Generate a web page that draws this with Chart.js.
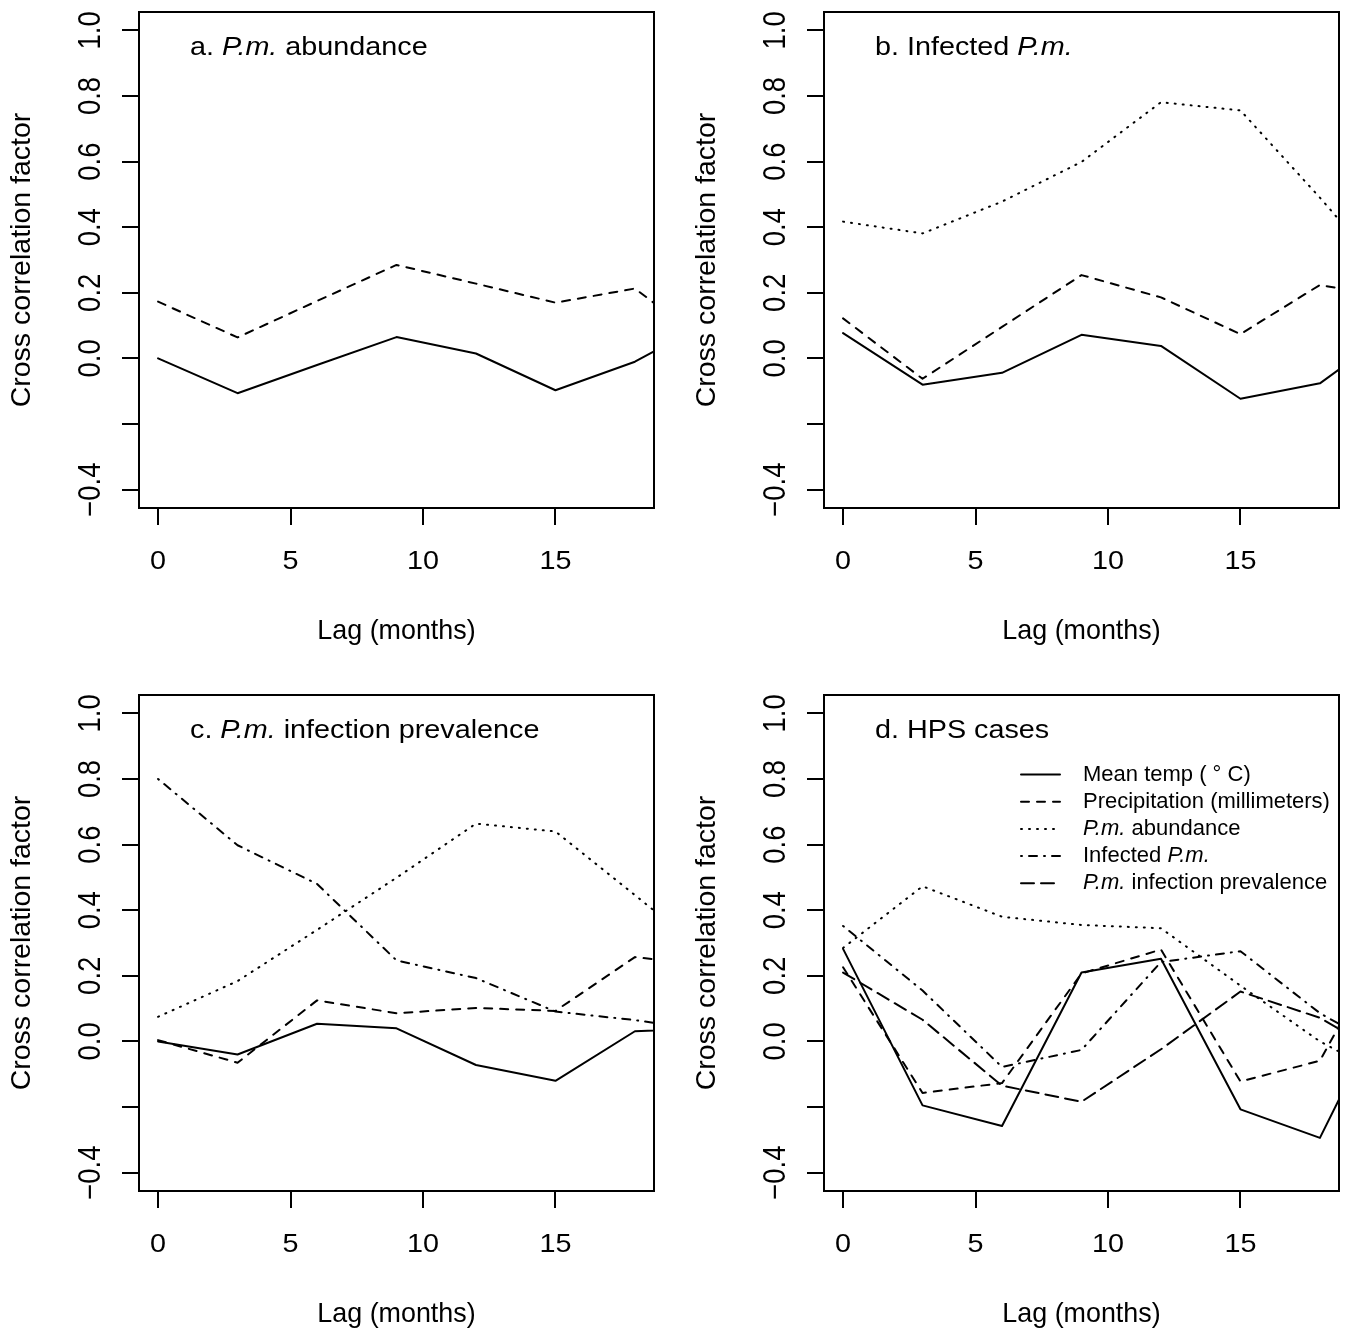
<!DOCTYPE html>
<html><head><meta charset="utf-8">
<script src="https://cdn.jsdelivr.net/npm/chart.js@4.4.1/dist/chart.umd.min.js"></script>
<style>
html,body{margin:0;padding:0;background:#fff;overflow:hidden;width:1349px;height:1329px}
.p{position:absolute}
canvas{display:block}
</style></head><body>
<div class="p" style="left:0;top:0"><canvas id="ca" width="674" height="646"></canvas></div>
<div class="p" style="left:685px;top:0"><canvas id="cb" width="664" height="646"></canvas></div>
<div class="p" style="left:0;top:683px"><canvas id="cc" width="674" height="646"></canvas></div>
<div class="p" style="left:685px;top:683px"><canvas id="cd" width="664" height="646"></canvas></div>
<script>
// ---- data ----
const lags = [0, 3, 6, 9, 12, 15, 18, 21];
const xTicks = [0, 5, 10, 15];
const xTickLabels = ['0', '5', '10', '15'];
const yTicks = [-0.4, -0.2, 0, 0.2, 0.4, 0.6, 0.8, 1.0];
const yTickLabels = ['\u22120.4', '', '0.0', '0.2', '0.4', '0.6', '0.8', '1.0'];
const xTitle = 'Lag (months)';
const yTitle = 'Cross correlation factor';

// a. P.m. abundance
const aTemp   = [0.0, -0.106, -0.02, 0.065, 0.015, -0.097, -0.010, 0.12];
const aPrecip = [0.173, 0.064, 0.175, 0.285, 0.228, 0.17, 0.213, 0.03];
// b. Infected P.m.
const bTemp   = [0.077, -0.08, -0.044, 0.072, 0.038, -0.123, -0.076, 0.10];
const bPrecip = [0.122, -0.062, 0.096, 0.254, 0.186, 0.074, 0.224, 0.18];
const bAbund  = [0.417, 0.381, 0.478, 0.599, 0.781, 0.756, 0.49, 0.21];
// c. P.m. infection prevalence
const cTemp     = [0.0, -0.04, 0.054, 0.04, -0.072, -0.12, 0.031, 0.04];
const cPrecip   = [0.004, -0.065, 0.125, 0.086, 0.102, 0.093, 0.257, 0.23];
const cAbund    = [0.075, 0.184, 0.34, 0.499, 0.664, 0.64, 0.446, 0.25];
const cInfected = [0.80, 0.598, 0.48, 0.247, 0.193, 0.091, 0.065, 0.03];
// d. HPS cases
const dTemp     = [0.282, -0.195, -0.258, 0.21, 0.252, -0.207, -0.294, 0.194];
const dPrecip   = [0.226, -0.157, -0.127, 0.207, 0.28, -0.122, -0.059, 0.38];
const dAbund    = [0.285, 0.473, 0.38, 0.355, 0.345, 0.17, 0.0, -0.13];
const dInfected = [0.352, 0.155, -0.078, -0.026, 0.242, 0.275, 0.086, -0.05];
const dPrev     = [0.21, 0.066, -0.135, -0.184, -0.024, 0.152, 0.072, -0.07];

// series labels (rich text: [text, italic])
const seriesLabels = {
  temp:     [['Mean temp ( \u00b0 C)', 0]],
  precip:   [['Precipitation (millimeters)', 0]],
  abund:    [['P.m.', 1], [' abundance', 0]],
  infected: [['Infected ', 0], ['P.m.', 1]],
  prev:     [['P.m.', 1], [' infection prevalence', 0]]
};
const panelTitles = {
  a: [['a. ', 0], ['P.m.', 1], [' abundance', 0]],
  b: [['b. Infected ', 0], ['P.m.', 1]],
  c: [['c. ', 0], ['P.m.', 1], [' infection prevalence', 0]],
  d: [['d. HPS cases', 0]]
};

// ---- styles ----
const FAM = '"Liberation Sans", Arial, Helvetica, sans-serif';
const dashes = { temp: [], precip: [8, 8], abund: [1, 7], infected: [1, 7, 8, 7], prev: [13, 7] };

function drawRich(ctx, parts, x, y, size, baseline) {
  let cx = x;
  ctx.textAlign = 'left';
  ctx.textBaseline = baseline;
  parts.forEach(([t, it]) => {
    ctx.font = (it ? 'italic ' : '') + size + 'px ' + FAM;
    ctx.fillText(t, cx, y);
    cx += ctx.measureText(t).width;
  });
}

const decor = {
  id: 'decor',
  afterDraw(chart, args, opts) {
    const ctx = chart.ctx, a = chart.chartArea;
    ctx.save();
    ctx.strokeStyle = '#000'; ctx.lineWidth = 2; ctx.setLineDash([]);
    ctx.strokeRect(a.left, a.top, a.right - a.left, a.bottom - a.top);
    ctx.fillStyle = '#000';
    // y tick labels, rotated like R
    const ys = chart.scales.y;
    ctx.font = '27.5px ' + FAM; ctx.textAlign = 'center'; ctx.textBaseline = 'alphabetic';
    yTicks.forEach((v, i) => {
      const lab = yTickLabels[i]; if (!lab) return;
      const py = ys.getPixelForValue(v);
      ctx.save(); ctx.translate(a.left - 39, py); ctx.rotate(-Math.PI / 2); ctx.scale(1, 1.11);
      ctx.fillText(lab, 0, 0); ctx.restore();
    });
    // x tick labels
    const xs = chart.scales.x;
    ctx.font = '25px ' + FAM; ctx.textAlign = 'center'; ctx.textBaseline = 'alphabetic';
    xTicks.forEach((v, i) => {
      const px = xs.getPixelForValue(v);
      ctx.save(); ctx.translate(px, a.bottom + 61.3); ctx.scale(1.15, 1);
      ctx.fillText(xTickLabels[i], 0, 0); ctx.restore();
    });
    // x axis title
    ctx.save();
    ctx.font = '28px ' + FAM; ctx.textAlign = 'center'; ctx.textBaseline = 'alphabetic';
    ctx.translate((a.left + a.right) / 2, a.bottom + 131.3); ctx.scale(0.96, 1);
    ctx.fillText(xTitle, 0, 0);
    ctx.restore();
    // panel title
    ctx.save();
    ctx.translate(a.left + 51, a.top + 43); ctx.scale(1.15, 1);
    drawRich(ctx, opts.title, 0, 0, 25, 'alphabetic');
    ctx.restore();
    // legend
    if (opts.legend) {
      chart.data.datasets.forEach((ds, i) => {
        const y = a.top + 79.5 + i * 27.2;
        ctx.save();
        ctx.strokeStyle = '#000'; ctx.lineWidth = 2; ctx.lineCap = 'round';
        ctx.setLineDash(ds.borderDash);
        ctx.beginPath(); ctx.moveTo(a.left + 197, y); ctx.lineTo(a.left + 236, y); ctx.stroke();
        ctx.restore();
        drawRich(ctx, seriesLabels[ds.label], a.left + 259, y, 22, 'middle');
      });
    }
    ctx.restore();
  }
};

function makeChart(id, key, series, padRight, legend) {
  const datasets = series.map(([name, vals]) => ({
    label: name,
    data: lags.map((x, i) => ({ x: x, y: vals[i] })),
    borderColor: '#000', borderWidth: 2,
    borderDash: dashes[name], borderCapStyle: 'round', borderJoinStyle: 'round',
    pointRadius: 0, tension: 0, fill: false, clip: 0
  }));
  const grid = { display: true, drawOnChartArea: false, drawTicks: true, tickLength: 17, color: '#000', lineWidth: 2 };
  return new Chart(document.getElementById(id), {
    type: 'line',
    data: { datasets },
    plugins: [decor],
    options: {
      responsive: false, animation: false, events: [],
      layout: { autoPadding: false, padding: { left: 0, top: 12, right: padRight, bottom: 0 } },
      plugins: { legend: { display: false }, tooltip: { enabled: false },
                 decor: { title: panelTitles[key], legend: legend } },
      scales: {
        x: {
          type: 'linear', min: -0.72, max: 18.72, bounds: 'data',
          afterBuildTicks: s => { s.ticks = xTicks.map(v => ({ value: v })); },
          afterFit: s => { s.height = 138; },
          ticks: { display: false },
          grid: grid, border: { display: false },
          title: { display: false }
        },
        y: {
          type: 'linear', min: -0.456, max: 1.056, bounds: 'data',
          afterBuildTicks: s => { s.ticks = yTicks.map(v => ({ value: v })); },
          afterFit: s => { s.width = 139; },
          ticks: { display: false },
          grid: grid, border: { display: false },
          title: { display: true, text: yTitle, color: '#000', font: { size: 28.5, family: FAM },
                   padding: { top: 5, bottom: 0 } }
        }
      }
    }
  });
}

makeChart('ca', 'a', [['temp', aTemp], ['precip', aPrecip]], 20, false);
makeChart('cb', 'b', [['temp', bTemp], ['precip', bPrecip], ['abund', bAbund]], 10, false);
makeChart('cc', 'c', [['temp', cTemp], ['precip', cPrecip], ['abund', cAbund], ['infected', cInfected]], 20, false);
makeChart('cd', 'd', [['temp', dTemp], ['precip', dPrecip], ['abund', dAbund], ['infected', dInfected], ['prev', dPrev]], 10, true);
</script>
</body></html>
